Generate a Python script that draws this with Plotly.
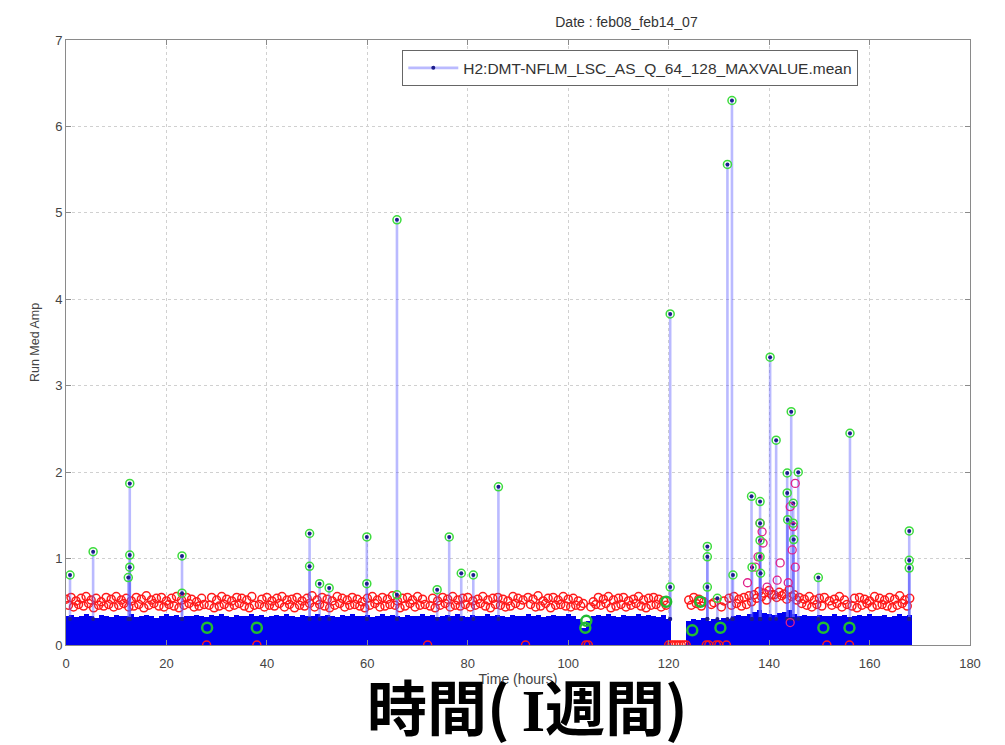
import plotly.graph_objects as go

# ---------------- data ----------------
blue_hours = list(range(0, 169))
blue_top = [0.33,0.35,0.32,0.34,0.36,0.33,0.31,0.35,0.34,0.32,
            0.35,0.33,0.34,0.36,0.32,0.34,0.35,0.33,0.31,0.34,
            0.36,0.33,0.35,0.32,0.34,0.33,0.35,0.34,0.32,0.35,
            0.33,0.36,0.34,0.32,0.35,0.33,0.34,0.36,0.33,0.35,
            0.32,0.34,0.35,0.33,0.36,0.34,0.32,0.35,0.33,0.34,
            0.36,0.33,0.35,0.34,0.32,0.35,0.33,0.36,0.34,0.33,
            0.35,0.32,0.34,0.36,0.33,0.35,0.34,0.32,0.35,0.33,
            0.34,0.36,0.33,0.35,0.32,0.34,0.35,0.33,0.36,0.34,
            0.32,0.35,0.33,0.34,0.36,0.33,0.35,0.34,0.32,0.35,
            0.33,0.34,0.36,0.33,0.35,0.32,0.34,0.35,0.33,0.34,
            0.36,0.33,0.30,0.20,0.28,0.34,0.35,0.33,0.36,0.34,
            0.32,0.35,0.33,0.34,0.36,0.33,0.35,0.34,0.32,0.35,
            0.30,0.00,0.00,0.00,0.28,0.30,0.29,0.31,0.28,0.30,
            0.29,0.31,0.30,0.33,0.35,0.34,0.36,0.38,0.40,0.37,
            0.36,0.35,0.37,0.38,0.40,0.36,0.34,0.35,0.33,0.34,
            0.35,0.33,0.34,0.36,0.33,0.35,0.32,0.34,0.35,0.33,
            0.36,0.34,0.33,0.35,0.32,0.34,0.36,0.33,0.35]

# upper row of red circles, one per hour (0 .. 168)
red_hours_a = list(range(0, 169))
red_a = [0.53,0.55,0.51,0.54,0.56,0.52,0.54,0.50,0.55,0.53,
         0.56,0.52,0.54,0.51,0.55,0.53,0.57,0.52,0.54,0.55,
         0.51,0.54,0.56,0.52,0.55,0.53,0.50,0.54,0.00,0.55,
         0.52,0.56,0.53,0.51,0.55,0.54,0.52,0.56,0.00,0.53,
         0.55,0.51,0.54,0.56,0.52,0.53,0.55,0.51,0.54,0.57,
         0.52,0.55,0.53,0.51,0.56,0.54,0.52,0.55,0.53,0.50,
         0.54,0.56,0.52,0.55,0.53,0.57,0.51,0.54,0.55,0.52,
         0.56,0.53,0.00,0.54,0.51,0.55,0.53,0.56,0.52,0.54,
         0.55,0.51,0.53,0.56,0.52,0.54,0.55,0.53,0.51,0.56,
         0.54,0.52,0.55,0.53,0.57,0.51,0.54,0.55,0.52,0.56,
         0.53,0.54,0.51,0.48,0.00,0.50,0.55,0.53,0.56,0.52,
         0.54,0.55,0.51,0.53,0.56,0.52,0.54,0.55,0.53,0.51,
         0.00,0.00,0.00,0.00,0.52,0.55,0.53,0.50,0.00,0.49,
         0.00,0.51,0.54,0.56,0.53,0.55,0.57,0.58,0.62,0.60,
         0.63,0.58,0.61,0.59,0.64,0.58,0.55,0.53,0.56,0.52,
         0.54,0.55,0.51,0.53,0.56,0.52,0.00,0.54,0.55,0.53,
         0.51,0.56,0.54,0.52,0.55,0.53,0.57,0.52,0.54]

# lower row of red circles, one per hour (0.5 .. 167.5)
red_hours_b = [h + 0.5 for h in range(0, 168)]
red_b = [0.46,0.44,0.47,0.45,0.48,0.43,0.46,0.45,0.47,0.44,
         0.46,0.48,0.44,0.45,0.47,0.43,0.46,0.48,0.45,0.44,
         0.47,0.45,0.43,0.46,0.48,0.44,0.45,0.47,0.46,0.43,
         0.45,0.47,0.44,0.46,0.48,0.45,0.43,0.46,0.47,0.44,
         0.46,0.45,0.48,0.44,0.47,0.43,0.46,0.45,0.48,0.44,
         0.47,0.45,0.43,0.46,0.48,0.44,0.46,0.47,0.45,0.43,
         0.46,0.48,0.44,0.45,0.47,0.46,0.43,0.45,0.48,0.44,
         0.46,0.47,0.45,0.43,0.46,0.48,0.44,0.46,0.45,0.47,
         0.44,0.46,0.48,0.45,0.43,0.47,0.46,0.44,0.45,0.48,
         0.46,0.00,0.47,0.44,0.45,0.48,0.43,0.46,0.47,0.45,
         0.44,0.46,0.45,0.00,0.44,0.47,0.46,0.48,0.43,0.45,
         0.47,0.44,0.46,0.48,0.45,0.43,0.46,0.47,0.44,0.46,
         0.00,0.00,0.00,0.00,0.46,0.48,0.45,0.00,0.47,0.00,
         0.44,0.00,0.46,0.48,0.45,0.47,0.50,0.54,0.56,0.52,
         0.58,0.55,0.57,0.53,0.56,0.52,0.48,0.46,0.44,0.47,
         0.45,0.00,0.46,0.48,0.44,0.47,0.45,0.43,0.46,0.48,
         0.44,0.46,0.47,0.45,0.43,0.46,0.48,0.45]

red_cluster_t = [138.2,138.6,138.8,137.8,137.3,142.2,145.2,144.2,144.8,144.6,
                 145.2,143.8,141.6,135.7,139.6,144.2]
red_cluster_y = [1.41,1.31,1.18,1.02,0.90,0.95,1.87,1.60,1.37,1.10,
                 0.90,0.72,0.75,0.72,0.67,0.26]

spike_t = [0.8,5.4,12.4,12.7,12.7,12.7,23.1,23.1,48.5,48.5,50.5,52.4,59.9,59.9,
           65.9,65.9,73.9,76.3,78.7,81.1,86.1,120.3,120.3,127.7,127.7,127.7,129.7,
           131.7,132.6,132.8,136.5,136.6,138.2,138.2,138.2,138.2,138.3,140.2,141.4,
           143.6,143.6,143.7,144.4,144.8,144.8,144.9,145.8,149.8,156.1,167.9,167.9,167.9]
spike_y = [0.81,1.08,0.78,1.87,1.04,0.90,1.03,0.60,1.29,0.91,0.71,0.66,1.25,0.71,
           4.92,0.58,0.64,1.25,0.83,0.81,1.83,3.83,0.67,1.14,1.02,0.67,0.54,
           5.56,6.30,0.81,1.72,0.90,1.66,1.41,1.21,1.02,0.83,3.33,2.37,
           1.99,1.76,1.45,2.70,1.64,1.41,1.22,2.00,0.78,2.45,1.32,0.98,0.89]

green_low_t = [28.1,38.0,103.4,103.6,119.5,124.7,126.3,130.3,150.8,156.0]
green_low_y = [0.20,0.20,0.20,0.28,0.50,0.17,0.50,0.20,0.20,0.20]

series_name = "H2:DMT-NFLM_LSC_AS_Q_64_128_MAXVALUE.mean"
stem_base = 0.3

# ---------------- figure ----------------
fig = go.Figure()

fig.add_trace(go.Bar(x=blue_hours, y=blue_top, width=1.0,
                     marker=dict(color="#0000f0", line=dict(width=0)),
                     showlegend=False, hoverinfo="skip"))

red_style = dict(symbol="circle-open", size=8, color="#ff1a1a",
                 line=dict(width=1.5, color="#ff1a1a"))
fig.add_trace(go.Scatter(x=red_hours_a, y=red_a, mode="markers",
                         marker=red_style, showlegend=False))
fig.add_trace(go.Scatter(x=red_hours_b, y=red_b, mode="markers",
                         marker=red_style, showlegend=False))

stem_x, stem_y = [], []
for t, v in zip(spike_t, spike_y):
    stem_x += [t, t, None]
    stem_y += [stem_base, v, None]
fig.add_trace(go.Scatter(x=stem_x, y=stem_y, mode="lines+markers",
                         name=series_name,
                         line=dict(color="rgba(90,90,255,0.42)", width=2.6),
                         marker=dict(symbol="circle", size=4, color="#1c1c8c"),
                         showlegend=True))

fig.add_trace(go.Scatter(x=red_cluster_t, y=red_cluster_y, mode="markers",
                         marker=dict(symbol="circle-open", size=8, color="#e0208a",
                                     line=dict(width=1.3, color="#e0208a")),
                         showlegend=False))

green_style = dict(symbol="circle-open", size=8, color="#3ddc3d",
                   line=dict(width=1.5, color="#3ddc3d"))
fig.add_trace(go.Scatter(x=spike_t, y=spike_y, mode="markers",
                         marker=green_style, showlegend=False))
fig.add_trace(go.Scatter(x=green_low_t, y=green_low_y, mode="markers",
                         marker=dict(symbol="circle-open", size=10, color="#22bb33",
                                     line=dict(width=2.5, color="#22bb33")),
                         showlegend=False))

axis_common = dict(showline=True, linecolor="#8a8a8a", linewidth=1, mirror="ticks",
                   ticks="inside", ticklen=5, tickcolor="#8a8a8a",
                   showgrid=True, gridcolor="#d0d0d0", griddash="dot", gridwidth=1,
                   zeroline=False,
                   tickfont=dict(family="Liberation Sans, Arial", size=13, color="#444"))

jp_label = ("<b>時間(\u2009<span style=\"font-family:'Liberation Serif'\">I</span>"
            "<span style=\"font-family:'Noto Sans CJK JP'\">週間)</span></b>")

fig.update_layout(
    width=1005, height=745,
    margin=dict(l=66, r=35, t=40, b=100),
    plot_bgcolor="white", paper_bgcolor="white",
    barmode="overlay", bargap=0,
    font=dict(family="Liberation Sans, Arial", color="#333"),
    title=dict(text="Date : feb08_feb14_07", xref="paper", x=0.62, xanchor="center",
               yref="container", y=0.970, yanchor="middle",
               font=dict(size=14, color="#333")),
    xaxis=dict(range=[0, 180], dtick=20, tick0=0, ticklabelstandoff=6,
               title=dict(text="Time (hours)", standoff=3,
                          font=dict(size=14, color="#444")),
               **axis_common),
    yaxis=dict(range=[0, 7], dtick=1, tick0=0,
               title=dict(text="Run Med Amp", standoff=12,
                          font=dict(size=12.5, color="#444")),
               **axis_common),
    legend=dict(x=0.372, y=0.983, xanchor="left", yanchor="top",
                bgcolor="white", bordercolor="#666", borderwidth=1,
                itemwidth=50,
                font=dict(family="Liberation Sans, Arial", size=15.5, color="#333")),
    annotations=[dict(text=jp_label,
                      xref="paper", yref="paper",
                      x=0.51, y=-0.098, xanchor="center", yanchor="middle",
                      showarrow=False,
                      font=dict(family="Noto Sans CJK JP", size=60, color="black"))],
)

fig.write_html("out.html")
